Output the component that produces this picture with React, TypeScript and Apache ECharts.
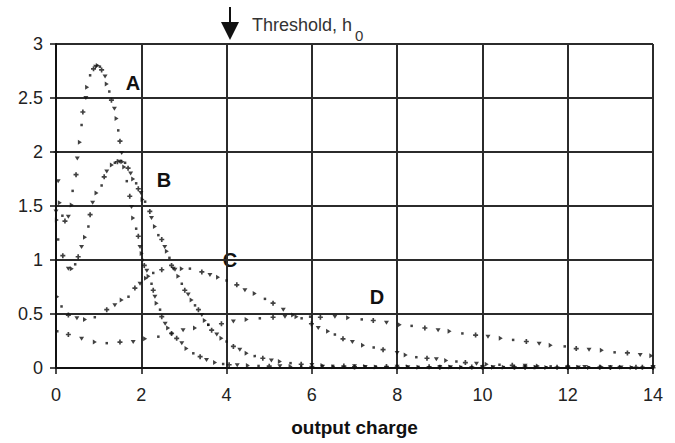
import React, { useEffect, useRef } from "react";
import * as echarts from "echarts";

// ---- data ----
const xMin = 0;
const xMax = 14;
const xStep = 2;
const yMin = 0;
const yMax = 3;
const yStep = 0.5;
const xAxisName = "output charge";
const thresholdText = "Threshold, h";
const thresholdSub = "0";
const curveNames = ["A", "B", "C", "D"];

const curveA: [number, number][] = [
  [0, 2.0], [0.05, 1.73], [0.09, 1.53], [0.15, 1.41], [0.21, 1.36], [0.29, 1.4],
  [0.37, 1.51], [0.39, 1.64], [0.47, 1.79], [0.5, 1.94], [0.56, 2.09], [0.6, 2.25],
  [0.63, 2.37], [0.7, 2.5], [0.73, 2.6], [0.8, 2.71], [0.88, 2.77], [0.93, 2.79],
  [0.98, 2.8], [1.03, 2.79], [1.07, 2.76], [1.15, 2.7], [1.19, 2.63], [1.25, 2.56],
  [1.3, 2.48], [1.37, 2.4], [1.42, 2.31], [1.46, 2.2], [1.5, 2.1], [1.54, 1.99],
  [1.6, 1.86], [1.66, 1.73], [1.73, 1.59], [1.77, 1.49], [1.81, 1.39], [1.88, 1.29],
  [1.93, 1.22], [1.97, 1.12], [2.01, 1.06], [2.03, 1.0], [2.07, 0.95], [2.13, 0.9],
  [2.17, 0.85], [2.24, 0.78], [2.28, 0.72], [2.32, 0.66], [2.36, 0.6], [2.44, 0.54],
  [2.48, 0.475], [2.56, 0.41], [2.63, 0.37], [2.71, 0.32], [2.83, 0.275], [2.95, 0.23],
  [3.06, 0.18], [3.22, 0.136], [3.38, 0.105], [3.53, 0.074], [3.73, 0.05], [3.92, 0.037],
  [4.06, 0.03], [4.25, 0.026], [4.5, 0.022], [4.75, 0.019], [5.0, 0.017], [5.25, 0.016],
  [5.5, 0.015], [5.75, 0.014], [6.0, 0.013], [6.25, 0.012], [6.5, 0.011], [6.75, 0.011],
  [7.0, 0.01], [7.25, 0.01], [7.5, 0.009], [7.75, 0.009], [8.0, 0.009], [8.25, 0.008],
  [8.5, 0.008], [8.75, 0.008], [9.0, 0.007], [9.25, 0.007], [9.5, 0.007], [9.75, 0.007],
  [10.0, 0.006], [10.25, 0.006], [10.5, 0.006], [10.75, 0.006], [11.0, 0.006], [11.25, 0.005],
  [11.5, 0.005], [11.75, 0.005], [12.0, 0.005], [12.25, 0.005], [12.5, 0.005], [12.75, 0.005],
  [13.0, 0.004], [13.25, 0.004], [13.5, 0.004], [13.75, 0.004], [14.0, 0.004],
];

const curveB: [number, number][] = [
  [0, 1.45], [0.02, 1.37], [0.05, 1.19], [0.16, 1.04], [0.29, 0.92], [0.37, 0.92],
  [0.45, 0.96], [0.52, 1.03], [0.6, 1.12], [0.68, 1.21], [0.76, 1.31], [0.8, 1.42],
  [0.86, 1.53], [0.95, 1.62], [1.07, 1.69], [1.13, 1.77], [1.19, 1.82], [1.31, 1.88],
  [1.38, 1.9], [1.44, 1.91], [1.5, 1.91], [1.56, 1.91], [1.62, 1.9], [1.69, 1.85],
  [1.75, 1.8], [1.81, 1.75], [1.88, 1.71], [1.93, 1.66], [1.99, 1.62], [2.03, 1.56],
  [2.09, 1.54], [2.2, 1.45], [2.24, 1.39], [2.32, 1.31], [2.4, 1.23], [2.48, 1.19],
  [2.55, 1.12], [2.6, 1.08], [2.66, 1.02], [2.71, 0.95], [2.79, 0.91], [2.87, 0.85],
  [2.95, 0.78], [3.02, 0.72], [3.1, 0.68], [3.18, 0.63], [3.26, 0.58], [3.34, 0.54],
  [3.42, 0.49], [3.49, 0.44], [3.57, 0.4], [3.65, 0.35], [3.77, 0.31], [3.88, 0.275],
  [4.0, 0.245], [4.16, 0.2], [4.31, 0.17], [4.47, 0.136], [4.66, 0.11], [4.85, 0.09],
  [5.05, 0.07], [5.25, 0.06], [5.5, 0.045], [5.75, 0.035], [6.0, 0.028], [6.25, 0.024],
  [6.5, 0.02], [6.75, 0.018], [7.0, 0.016], [7.25, 0.015], [7.5, 0.014], [7.75, 0.013],
  [8.0, 0.012], [8.25, 0.012], [8.5, 0.011], [8.75, 0.011], [9.0, 0.01], [9.25, 0.01],
  [9.5, 0.009], [9.75, 0.009], [10.0, 0.009], [10.25, 0.008], [10.5, 0.008], [10.75, 0.008],
  [11.0, 0.008], [11.25, 0.007], [11.5, 0.007], [11.75, 0.007], [12.0, 0.007], [12.25, 0.007],
  [12.5, 0.006], [12.75, 0.006], [13.0, 0.006], [13.25, 0.006], [13.5, 0.006], [13.75, 0.006],
  [14.0, 0.006],
];

const curveC: [number, number][] = [
  [0.03, 0.66], [0.13, 0.57], [0.29, 0.49], [0.49, 0.46], [0.68, 0.45], [0.91, 0.47],
  [1.19, 0.54], [1.38, 0.58], [1.54, 0.63], [1.7, 0.66], [1.85, 0.74], [1.97, 0.78],
  [2.11, 0.83], [2.28, 0.88], [2.48, 0.91], [2.75, 0.92], [2.95, 0.92], [3.14, 0.92],
  [3.42, 0.89], [3.61, 0.86], [3.8, 0.84], [4.0, 0.81], [4.24, 0.77], [4.43, 0.72],
  [4.66, 0.69], [4.9, 0.64], [5.09, 0.6], [5.33, 0.54], [5.56, 0.49], [5.76, 0.46],
  [5.99, 0.41], [6.15, 0.37], [6.38, 0.34], [6.54, 0.31], [6.73, 0.27], [6.95, 0.24],
  [7.2, 0.21], [7.45, 0.19], [7.67, 0.17], [8.0, 0.14], [8.2, 0.12], [8.45, 0.1],
  [8.7, 0.09], [8.92, 0.08], [9.15, 0.07], [9.39, 0.06], [9.6, 0.05], [9.86, 0.04],
  [10.1, 0.035], [10.4, 0.03], [10.7, 0.025], [11.0, 0.02], [11.3, 0.018], [11.6, 0.015],
  [12.0, 0.012], [12.4, 0.01], [12.8, 0.009], [13.2, 0.008], [13.6, 0.007], [14.0, 0.006],
];

const curveD: [number, number][] = [
  [0.03, 0.34], [0.29, 0.31], [0.6, 0.27], [0.91, 0.24], [1.19, 0.23], [1.5, 0.24],
  [1.81, 0.24], [2.09, 0.27], [2.4, 0.29], [2.71, 0.32], [2.98, 0.35], [3.26, 0.37],
  [3.57, 0.4], [3.88, 0.41], [4.16, 0.43], [4.47, 0.45], [4.78, 0.46], [5.09, 0.47],
  [5.37, 0.475], [5.64, 0.475], [5.96, 0.475], [6.2, 0.47], [6.54, 0.475], [6.85, 0.465],
  [7.17, 0.45], [7.44, 0.44], [7.75, 0.42], [8.06, 0.4], [8.34, 0.39], [8.65, 0.37],
  [8.96, 0.35], [9.23, 0.34], [9.53, 0.32], [9.84, 0.305], [10.13, 0.29], [10.43, 0.275],
  [10.72, 0.26], [11.03, 0.245], [11.33, 0.225], [11.6, 0.21], [11.93, 0.2], [12.2, 0.18],
  [12.5, 0.17], [12.8, 0.165], [13.1, 0.145], [13.4, 0.14], [13.7, 0.12], [13.96, 0.114],
];

// ---- styling ----
const INK = "#111111";
const GRID = "#2b2b2b";
const FONT = "'Liberation Sans', Arial, sans-serif";
const PLUS = "path://M2,0H4V2H6V4H4V6H2V4H0V2H2Z";

function toItems(points: [number, number][], offset: number) {
  return points.map((p, i) => {
    const k = (i + offset) % 4;
    if (k === 0) return { value: p, symbol: PLUS, symbolSize: 5, symbolRotate: 0 };
    if (k === 1) return { value: p, symbol: "triangle", symbolSize: [5, 4], symbolRotate: 180 };
    if (k === 2) return { value: p, symbol: "triangle", symbolSize: [5, 4], symbolRotate: -90 };
    return { value: p, symbol: "rect", symbolSize: 2.5, symbolRotate: 0 };
  });
}

export default function App() {
  const ref = useRef<HTMLDivElement>(null);

  useEffect(() => {
    if (!ref.current) return;
    const chart = echarts.init(ref.current, undefined, { renderer: "svg" });
    const curves = [curveA, curveB, curveC, curveD];
    const labelPos: [number, number][] = [
      [133, 83],
      [164, 180],
      [230, 260],
      [377, 297],
    ];
    chart.setOption({
      animation: false,
      backgroundColor: "#ffffff",
      grid: { left: 56, right: 22, top: 44, bottom: 75, containLabel: false },
      xAxis: {
        type: "value",
        min: xMin,
        max: xMax,
        interval: xStep,
        name: xAxisName,
        nameLocation: "middle",
        nameGap: 50,
        nameTextStyle: { color: INK, fontSize: 19, fontWeight: "bold", fontFamily: FONT },
        axisLine: { show: true, lineStyle: { color: INK, width: 2 } },
        axisTick: { show: true, length: 6, lineStyle: { color: INK, width: 1.5 } },
        axisLabel: { color: "#222", fontSize: 18, fontFamily: FONT, margin: 18 },
        splitLine: { show: true, lineStyle: { color: GRID, width: 2 } },
      },
      yAxis: {
        type: "value",
        min: yMin,
        max: yMax,
        interval: yStep,
        axisLine: { show: true, lineStyle: { color: INK, width: 2 } },
        axisTick: { show: true, length: 6, lineStyle: { color: INK, width: 1.5 } },
        axisLabel: { color: "#222", fontSize: 18, fontFamily: FONT, margin: 13 },
        splitLine: { show: true, lineStyle: { color: GRID, width: 2 } },
      },
      series: curves.map((c, idx) => ({
        name: curveNames[idx],
        type: "scatter",
        data: toItems(c, idx),
        itemStyle: { color: INK },
        emphasis: { disabled: true },
        silent: true,
      })),
      graphic: [
        { type: "line", shape: { x1: 230, y1: 7, x2: 230, y2: 24 }, style: { stroke: INK, lineWidth: 2 } },
        { type: "polygon", shape: { points: [[221, 22], [239, 22], [230, 40]] }, style: { fill: INK } },
        {
          type: "text",
          x: 252,
          y: 25,
          style: { text: thresholdText, fill: "#333", font: `18px ${FONT}`, textVerticalAlign: "middle" },
        },
        {
          type: "text",
          x: 355,
          y: 35,
          style: { text: thresholdSub, fill: "#333", font: `15px ${FONT}`, textVerticalAlign: "middle" },
        },
        ...curveNames.map((n, i) => ({
          type: "text",
          x: labelPos[i][0],
          y: labelPos[i][1],
          style: {
            text: n,
            fill: INK,
            font: `bold 20px ${FONT}`,
            textAlign: "center",
            textVerticalAlign: "middle",
          },
        })),
      ],
    });
    return () => chart.dispose();
  }, []);

  return (
    <div
      ref={ref}
      style={{ position: "fixed", left: 0, top: 0, width: 675, height: 443, background: "#fff" }}
    />
  );
}
